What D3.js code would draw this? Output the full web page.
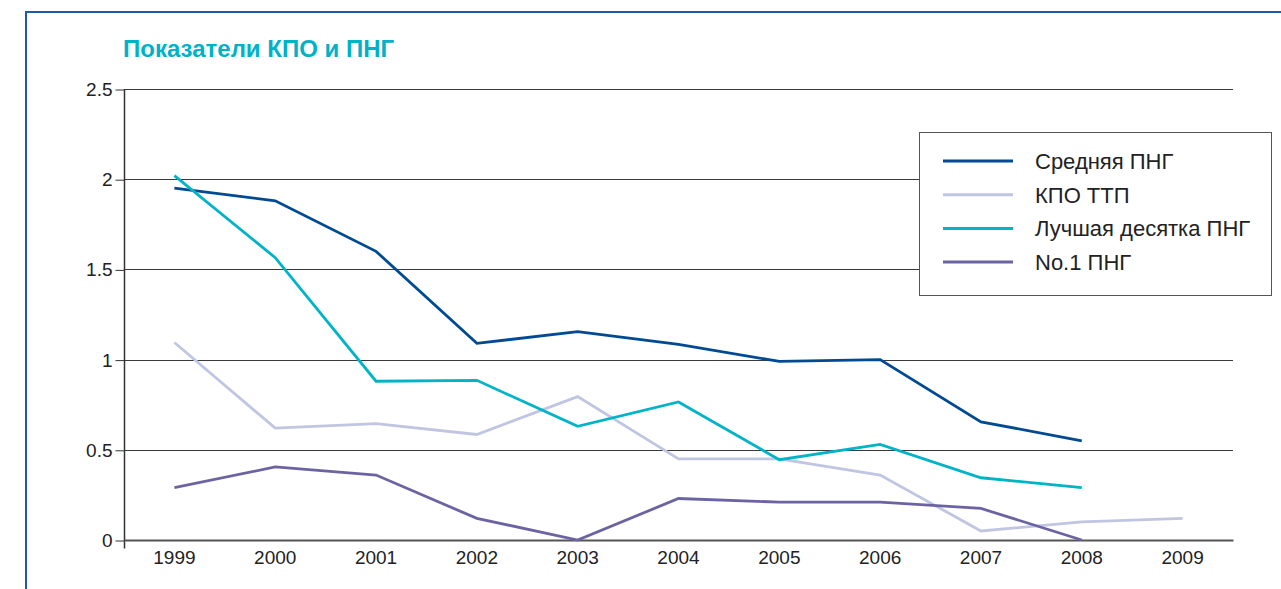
<!DOCTYPE html>
<html>
<head>
<meta charset="utf-8">
<script src="https://cdn.jsdelivr.net/npm/d3@7"></script>
<style>
  body { margin: 0; background: #fff; }
  svg { display: block; font-family: 'Liberation Sans', Arial, sans-serif; }
</style>
</head>
<body>
<svg id="chart" width="1281" height="589"></svg>
<script>
const years = ['1999', '2000', '2001', '2002', '2003', '2004', '2005', '2006', '2007', '2008', '2009']
const yTicks = [0, 0.5, 1, 1.5, 2, 2.5]

const avgPng = [1.95, 1.88, 1.60, 1.09, 1.155, 1.085, 0.99, 1.0, 0.655, 0.55, null]
const kpoTtp = [1.095, 0.62, 0.645, 0.585, 0.795, 0.45, 0.45, 0.36, 0.05, 0.10, 0.12]
const top10Png = [2.02, 1.565, 0.88, 0.885, 0.63, 0.765, 0.445, 0.53, 0.345, 0.29, null]
const no1Png = [0.29, 0.405, 0.36, 0.12, 0, 0.23, 0.21, 0.21, 0.175, 0, null]

const series = [
  { name: 'Средняя ПНГ', values: avgPng, color: '#004a93' },
  { name: 'КПО ТТП', values: kpoTtp, color: '#c0c5e2' },
  { name: 'Лучшая десятка ПНГ', values: top10Png, color: '#00b4c8' },
  { name: 'No.1 ПНГ', values: no1Png, color: '#6c64a2' }
]

const margin = { left: 124, right: 1233, top: 89, bottom: 540 }
const labelFont = 'Liberation Sans, Arial, sans-serif'

const svg = d3.select('#chart')

// frame
svg.append('path')
  .attr('d', `M26,589 V12 H1281`)
  .attr('fill', 'none')
  .attr('stroke', '#1d5ba8')
  .attr('stroke-width', 2)

svg.append('text')
  .attr('x', 123)
  .attr('y', 57)
  .attr('fill', '#00b2c9')
  .attr('font-weight', 'bold')
  .attr('font-size', 24)
  .text('Показатели КПО и ПНГ')

const x = d3.scaleBand()
  .domain(years)
  .range([margin.left, margin.right])

const y = d3.scaleLinear()
  .domain([0, 2.5])
  .range([margin.bottom, margin.top])

// gridlines
svg.append('g')
  .selectAll('line')
  .data(yTicks.filter(d => d > 0))
  .enter().append('line')
  .attr('x1', margin.left)
  .attr('x2', margin.right)
  .attr('y1', d => Math.round(y(d)) + 0.5)
  .attr('y2', d => Math.round(y(d)) + 0.5)
  .attr('stroke', '#3a3a3a')
  .attr('stroke-width', 1)

// y axis
const yAxis = svg.append('g')
  .attr('transform', `translate(${margin.left + 0.5},0.5)`)
  .call(d3.axisLeft(y).tickValues(yTicks).tickFormat(d3.format('')).tickSize(9).tickPadding(3))
yAxis.select('.domain').attr('stroke', '#333').attr('stroke-width', 1.5).attr('d', `M0,${margin.top}V${margin.bottom + 8}`)
yAxis.selectAll('.tick line').attr('stroke', '#333')
yAxis.selectAll('.tick text').attr('font-size', 19).attr('fill', '#222').attr('font-family', labelFont)

// x axis
const xAxis = svg.append('g')
  .attr('transform', `translate(0,${margin.bottom})`)
  .call(d3.axisBottom(x).tickSize(0).tickPadding(11))
xAxis.select('.domain').attr('stroke', '#555').attr('stroke-width', 2)
xAxis.selectAll('.tick text').attr('font-size', 19).attr('fill', '#222').attr('font-family', labelFont)

const line = d3.line()
  .defined(d => d != null)
  .x((d, i) => x(years[i]) + x.bandwidth() / 2)
  .y(d => y(d))

svg.append('g')
  .selectAll('path')
  .data(series)
  .enter().append('path')
  .attr('d', d => line(d.values))
  .attr('fill', 'none')
  .attr('stroke', d => d.color)
  .attr('stroke-width', 2.8)

// legend
svg.append('rect')
  .attr('x', 919.5)
  .attr('y', 132.5)
  .attr('width', 352)
  .attr('height', 163)
  .attr('fill', '#fff')
  .attr('stroke', '#555')
  .attr('stroke-width', 1)

const legend = svg.append('g')

const item = legend.selectAll('g')
  .data(series)
  .enter().append('g')
  .attr('transform', (d, i) => `translate(943,${161 + i * 33.7})`)

item.append('line')
  .attr('x1', 0)
  .attr('x2', 70)
  .attr('stroke', d => d.color)
  .attr('stroke-width', 3)

item.append('text')
  .attr('x', 92)
  .attr('y', 8)
  .attr('font-size', 22)
  .attr('fill', '#222')
  .text(d => d.name)
</script>
</body>
</html>
